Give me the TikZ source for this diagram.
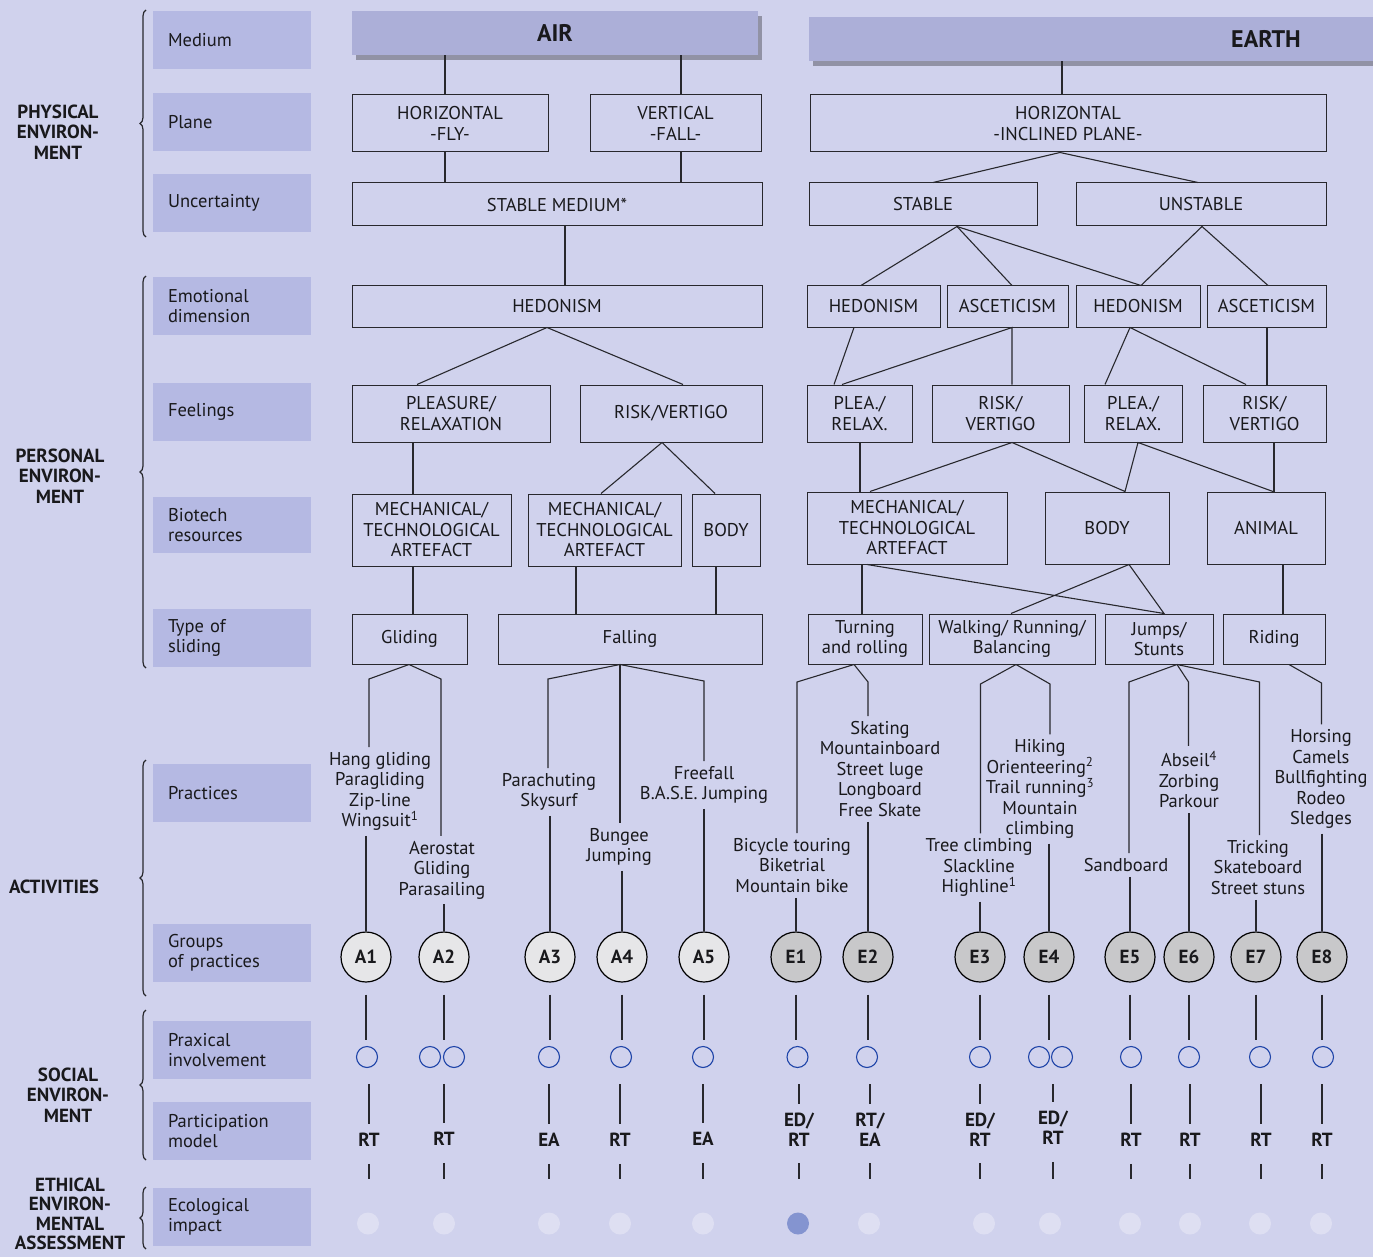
\documentclass[tikz,border=0pt]{standalone}
\usepackage{fontspec}
\setmainfont{PT Sans}
\usetikzlibrary{decorations.pathreplacing,shadows}
\definecolor{bgc}{RGB}{208,210,237}
\definecolor{labc}{RGB}{181,185,227}
\definecolor{hdrc}{RGB}{172,175,216}
\definecolor{lc}{RGB}{40,40,45}
\definecolor{tc}{RGB}{25,25,28}
\definecolor{gA}{RGB}{230,230,232}
\definecolor{gE}{RGB}{200,200,202}
\definecolor{bluec}{RGB}{30,68,168}
\definecolor{ecoL}{RGB}{222,223,242}
\definecolor{ecoD}{RGB}{132,148,208}
\newcommand\myfs{\fontsize{18.5}{20.5}\selectfont}
\newcommand\myfb{\fontsize{19}{20.5}\selectfont\bfseries}
\newcommand\myfbe{\fontsize{19}{19.5}\selectfont\bfseries}
\newcommand\myfbc{\fontsize{19}{20}\selectfont\bfseries}
\newcommand\myhd{\fontsize{24}{26}\selectfont\bfseries}
\newcommand\bx[6]{\node[box, minimum width={(#4-#2)*1pt}, minimum height={(#5-#3)*1pt}] (#1) at ({(#2+#4)/2},{(#3+#5)/2+1}) {#6};}
\tikzset{
  box/.style={draw=lc, line width=1pt, inner sep=0pt, align=center, font=\myfs, text=tc},
  ln/.style={draw=lc, line width=1.1pt},
  lnk/.style={draw=lc, line width=2pt},
  lab/.style={fill=labc, inner sep=0pt, minimum width=158pt, minimum height=58pt, text width=128pt, align=left, font=\myfs, text=tc},
  ttl/.style={align=center, font=\myfb, text=tc, inner sep=0pt},
  prac/.style={align=center, font=\myfs, inner sep=5pt, text=tc},
  grpA/.style={circle, draw=black, line width=1.2pt, fill=gA, minimum size=50pt, inner sep=0pt, font=\myfbc, text=tc},
  grpE/.style={grpA, fill=gE},
  pxc/.style={circle, draw=bluec, line width=1.1pt, minimum size=21pt, inner sep=0pt},
  part/.style={align=center, font=\myfbc, inner sep=0pt, text=tc},
  eco/.style={circle, fill=ecoL, minimum size=22pt, inner sep=0pt},
  brc/.style={draw=lc, line width=1.2pt, decorate, decoration={brace, amplitude=6pt}},
  hdr/.style={fill=hdrc, inner sep=0pt, font=\myhd, text=tc, drop shadow={shadow xshift=4pt, shadow yshift=-5pt, opacity=0.3, fill=black}},
}
\begin{document}
\begin{tikzpicture}[x=1pt,y=-1pt]
\useasboundingbox (0,0) rectangle (1373,1257);
\fill[bgc] (0,0) rectangle (1373,1257);

% ---------- left labels ----------
\node[lab] (lmed) at (232,40) {Medium};
\node[lab] (lpla) at (232,122) {Plane};
\node[lab] (lunc) at (232,203) {Uncertainty};
\node[lab] (lemo) at (232,306) {Emotional\\dimension};
\node[lab] (lfee) at (232,412) {Feelings};
\node[lab, minimum height=56pt] (lbio) at (232,525) {Biotech\\resources};
\node[lab] (ltyp) at (232,638) {Type of\\sliding};
\node[lab] (lpra) at (232,793) {Practices};
\node[lab] (lgro) at (232,953) {Groups\\of practices};
\node[lab] (lprx) at (232,1050) {Praxical\\involvement};
\node[lab] (lpar) at (232,1131) {Participation\\model};
\node[lab] (leco) at (232,1217) {Ecological\\impact};

% ---------- braces ----------
\draw[brc] (146,237) -- (146,10);
\draw[brc] (146,668) -- (146,276);
\draw[brc] (146,996) -- (146,760);
\draw[brc] (146,1160) -- (146,1010);
\draw[brc] (146,1249) -- (146,1187);

% ---------- titles ----------
\node[ttl] (tphy) at (58,132) {PHYSICAL\\ENVIRON-\\MENT};
\node[ttl] (tper) at (60,476) {PERSONAL\\ENVIRON-\\MENT};
\node[ttl] (tact) at (54,887) {ACTIVITIES};
\node[ttl] (tsoc) at (68,1095) {SOCIAL\\ENVIRON-\\MENT};
\node[ttl, font=\myfbe] (teth) at (70,1214) {ETHICAL\\ENVIRON-\\MENTAL\\ASSESSMENT};

% ---------- headers ----------
\node[hdr, minimum width=406pt, minimum height=44pt] (airh) at (555,33) {AIR};
\node[hdr, minimum width=600pt, minimum height=44pt] (earthh) at (1109,39) {};
\node[font=\myhd, text=tc, inner sep=0pt] (earthtxt) at (1266,39) {EARTH};

% ---------- boxes ----------
\bx{hfly}{352}{94}{548}{151}{HORIZONTAL\\-FLY-}
\bx{vfall}{590}{94}{761}{151}{VERTICAL\\-FALL-}
\bx{hinc}{810}{94}{1326}{151}{HORIZONTAL\\-INCLINED PLANE-}
\bx{smed}{352}{182}{762}{225}{STABLE MEDIUM*}
\bx{stab}{809}{182}{1037}{225}{STABLE}
\bx{unst}{1076}{182}{1326}{225}{UNSTABLE}
\bx{hedA}{352}{285}{762}{326}{HEDONISM}
\bx{hed1}{807}{285}{940}{326}{HEDONISM}
\bx{asc1}{947}{285}{1068}{326}{ASCETICISM}
\bx{hed2}{1076}{285}{1200}{326}{HEDONISM}
\bx{asc2}{1207}{285}{1326}{326}{ASCETICISM}
\bx{plA}{352}{384}{550}{441}{PLEASURE/\\RELAXATION}
\bx{rvA}{580}{384}{762}{441}{RISK/VERTIGO}
\bx{ple1}{807}{384}{912}{441}{PLEA./\\RELAX.}
\bx{rsk1}{932}{384}{1069}{441}{RISK/\\VERTIGO}
\bx{ple2}{1084}{384}{1182}{441}{PLEA./\\RELAX.}
\bx{rsk2}{1203}{384}{1326}{441}{RISK/\\VERTIGO}
\bx{mta1}{352}{493}{511}{565}{MECHANICAL/\\TECHNOLOGICAL\\ARTEFACT}
\bx{mta2}{528}{493}{681}{565}{MECHANICAL/\\TECHNOLOGICAL\\ARTEFACT}
\bx{bodA}{692}{493}{760}{565}{BODY}
\bx{mta3}{807}{491}{1007}{563}{MECHANICAL/\\TECHNOLOGICAL\\ARTEFACT}
\bx{bod3}{1045}{491}{1169}{563}{BODY}
\bx{anim}{1207}{491}{1325}{563}{ANIMAL}
\bx{glid}{352}{613}{467}{663}{Gliding}
\bx{fall}{498}{613}{762}{663}{Falling}
\bx{turn}{808}{613}{922}{663}{Turning\\and rolling}
\bx{walk}{929}{613}{1095}{663}{Walking/ Running/\\Balancing}
\bx{jump}{1105}{613}{1213}{663}{Jumps/\\Stunts}
\bx{ride}{1223}{613}{1325}{663}{Riding}

% ---------- tree connectors ----------
\draw[lnk] (445,0 |- airh.south) -- (445,0 |- hfly.north);
\draw[lnk] (681,0 |- airh.south) -- (681,0 |- vfall.north);
\draw[lnk] (1062,0 |- earthh.south) -- (1062,0 |- hinc.north);
\draw[ln] (445,0 |- hfly.south) -- (445,0 |- smed.north);
\draw[ln] (681,0 |- vfall.south) -- (681,0 |- smed.north);
\draw[ln] (933,0 |- stab.north) -- (1060,0 |- hinc.south) -- (1198,0 |- unst.north);
\draw[ln] (565,0 |- smed.south) -- (565,0 |- hedA.north);
\draw[ln] (861,0 |- hed1.north) -- (957,0 |- stab.south) -- (1012,0 |- asc1.north);
\draw[ln] (957,0 |- stab.south) -- (1141,0 |- hed2.north) -- (1202,0 |- unst.south) -- (1268,0 |- asc2.north);
\draw[ln] (417,0 |- plA.north) -- (547,0 |- hedA.south) -- (683,0 |- rvA.north);
\draw[ln] (854,0 |- hed1.south) -- (834,0 |- ple1.north);
\draw[ln] (842,0 |- ple1.north) -- (1012,0 |- asc1.south) -- (1012,0 |- rsk1.north);
\draw[ln] (1105,0 |- ple2.north) -- (1130,0 |- hed2.south) -- (1246,0 |- rsk2.north);
\draw[ln] (1267,0 |- asc2.south) -- (1267,0 |- rsk2.north);
\draw[ln] (413,0 |- plA.south) -- (413,0 |- mta1.north);
\draw[ln] (601,0 |- mta2.north) -- (662,0 |- rvA.south) -- (715,0 |- bodA.north);
\draw[ln] (860,0 |- ple1.south) -- (860,0 |- mta3.north);
\draw[ln] (870,0 |- mta3.north) -- (1012,0 |- rsk1.south) -- (1125,0 |- bod3.north) -- (1138,0 |- ple2.south) -- (1273,0 |- anim.north);
\draw[ln] (1274,0 |- rsk2.south) -- (1274,0 |- anim.north);
\draw[ln] (413,0 |- mta1.south) -- (413,0 |- glid.north);
\draw[ln] (576,0 |- mta2.south) -- (576,0 |- fall.north);
\draw[ln] (716,0 |- bodA.south) -- (716,0 |- fall.north);
\draw[ln] (862,0 |- mta3.south) -- (862,0 |- turn.north);
\draw[ln] (867,0 |- mta3.south) -- (1164,0 |- jump.north) -- (1129,0 |- bod3.south) -- (1011,0 |- walk.north);
\draw[ln] (1283,0 |- anim.south) -- (1283,0 |- ride.north);

% ---------- practices ----------
\node[prac] (pA1) at (380,791.5) {Hang gliding\\Paragliding\\Zip-line\\Wingsuit\textsuperscript{1}};
\node[prac] (pA2) at (442,870) {Aerostat\\Gliding\\Parasailing};
\node[prac] (pA3) at (549,792) {Parachuting\\Skysurf};
\node[prac] (pA4) at (619,847) {Bungee\\Jumping};
\node[prac] (pA5) at (704,785) {Freefall\\B.A.S.E. Jumping};
\node[prac] (pE1) at (792,865.5) {Bicycle touring\\Biketrial\\Mountain bike};
\node[prac] (pE2) at (880,769) {Skating\\Mountainboard\\Street luge\\Longboard\\Free Skate};
\node[prac] (pE3) at (979,867.5) {Tree climbing\\Slackline\\Highline\textsuperscript{1}};
\node[prac] (pE4) at (1040,789) {Hiking\\Orienteering\textsuperscript{2}\\Trail running\textsuperscript{3}\\Mountain\\climbing};
\node[prac] (pE5) at (1126,865) {Sandboard};
\node[prac] (pE6) at (1189,779.5) {Abseil\textsuperscript{4}\\Zorbing\\Parkour};
\node[prac] (pE7) at (1258,867.5) {Tricking\\Skateboard\\Street stuns};
\node[prac] (pE8) at (1321,779) {Horsing\\Camels\\Bullfighting\\Rodeo\\Sledges};

% ---------- groups ----------
\node[grpA] (cA1) at (366,957) {A1};
\node[grpA] (cA2) at (444,957) {A2};
\node[grpA] (cA3) at (550,957) {A3};
\node[grpA] (cA4) at (622,957) {A4};
\node[grpA] (cA5) at (704,957) {A5};
\node[grpE] (cE1) at (796,957) {E1};
\node[grpE] (cE2) at (868,957) {E2};
\node[grpE] (cE3) at (980,957) {E3};
\node[grpE] (cE4) at (1049,957) {E4};
\node[grpE] (cE5) at (1130,957) {E5};
\node[grpE] (cE6) at (1189,957) {E6};
\node[grpE] (cE7) at (1256,957) {E7};
\node[grpE] (cE8) at (1322,957) {E8};

% practice connectors (upper)
\draw[ln] (409,0 |- glid.south) -- (369,679) -- (369,0 |- pA1.north);
\draw[ln] (409,0 |- glid.south) -- (441,679) -- (441,0 |- pA2.north);
\draw[ln] (620,0 |- fall.south) -- (548,679) -- (548,0 |- pA3.north);
\draw[ln] (620,0 |- fall.south) -- (620,0 |- pA4.north);
\draw[ln] (620,0 |- fall.south) -- (704,681) -- (704,0 |- pA5.north);
\draw[ln] (854,0 |- turn.south) -- (797,682) -- (797,0 |- pE1.north);
\draw[ln] (854,0 |- turn.south) -- (868,682) -- (868,0 |- pE2.north);
\draw[ln] (1016,0 |- walk.south) -- (980.5,684) -- (980.5,0 |- pE3.north);
\draw[ln] (1016,0 |- walk.south) -- (1050,684) -- (1050,0 |- pE4.north);
\draw[ln] (1177,0 |- jump.south) -- (1129,682) -- (1129,0 |- pE5.north);
\draw[ln] (1177,0 |- jump.south) -- (1188.5,682) -- (1188.5,0 |- pE6.north);
\draw[ln] (1177,0 |- jump.south) -- (1259.5,682) -- (1259.5,0 |- pE7.north);
\draw[ln] (1289,0 |- ride.south) -- (1321.5,683) -- (1321.5,0 |- pE8.north);
% practice connectors (lower)
\foreach \p in {A1,A2,A3,A4,A5,E1,E2,E3,E4,E5,E6,E7,E8}
  \draw[ln] (c\p.north |- p\p.south) -- (c\p.north);

% ---------- praxical involvement ----------
\node[pxc] (pxA1) at (367,1057) {};
\node[pxc] (pxA2a) at (430,1057) {};
\node[pxc] (pxA2b) at (454,1057) {};
\node[pxc] (pxA3) at (549,1057) {};
\node[pxc] (pxA4) at (621,1057) {};
\node[pxc] (pxA5) at (703,1057) {};
\node[pxc] (pxE1) at (797.5,1057) {};
\node[pxc] (pxE2) at (867,1057) {};
\node[pxc] (pxE3) at (980,1057) {};
\node[pxc] (pxE4a) at (1039,1057) {};
\node[pxc] (pxE4b) at (1062,1057) {};
\node[pxc] (pxE5) at (1131,1057) {};
\node[pxc] (pxE6) at (1189,1057) {};
\node[pxc] (pxE7) at (1260,1057) {};
\node[pxc] (pxE8) at (1323,1057) {};

% ---------- participation model ----------
\node[part] (rA1) at (369,1140) {RT};
\node[part] (rA2) at (444,1139) {RT};
\node[part] (rA3) at (549,1140) {EA};
\node[part] (rA4) at (620,1140) {RT};
\node[part] (rA5) at (703,1139) {EA};
\node[part] (rE1) at (799,1129.5) {ED/\\RT};
\node[part] (rE2) at (870,1129.5) {RT/\\EA};
\node[part] (rE3) at (980,1129.5) {ED/\\RT};
\node[part] (rE4) at (1053,1128) {ED/\\RT};
\node[part] (rE5) at (1131,1140) {RT};
\node[part] (rE6) at (1190,1140) {RT};
\node[part] (rE7) at (1261,1140) {RT};
\node[part] (rE8) at (1322,1140) {RT};

% ---------- ecological impact ----------
\node[eco] (eA1) at (368,1223.5) {};
\node[eco] (eA2) at (444,1223.5) {};
\node[eco] (eA3) at (549,1223.5) {};
\node[eco] (eA4) at (620,1223.5) {};
\node[eco] (eA5) at (703,1223.5) {};
\node[eco, fill=ecoD] (eE1) at (798,1223.5) {};
\node[eco] (eE2) at (869,1223.5) {};
\node[eco] (eE3) at (984,1223.5) {};
\node[eco] (eE4) at (1050,1223.5) {};
\node[eco] (eE5) at (1130,1223.5) {};
\node[eco] (eE6) at (1190,1223.5) {};
\node[eco] (eE7) at (1260,1223.5) {};
\node[eco] (eE8) at (1321,1223.5) {};

% group -> praxical
\foreach \p in {A1,A3,A4,A5,E1,E2,E3,E5,E6,E7,E8}
  \draw[ln, shorten <=12pt, shorten >=6pt] (c\p.south) -- (c\p.south |- px\p.north);
\draw[ln, shorten <=12pt, shorten >=6pt] (cA2.south) -- (cA2.south |- pxA2a.north);
\draw[ln, shorten <=12pt, shorten >=6pt] (cE4.south) -- (cE4.south |- pxE4a.north);
% praxical -> participation
\foreach \p in {A1,A3,A4,A5,E1,E2,E3,E5,E6,E7,E8}
  \draw[ln, shorten <=16pt, shorten >=9pt] (r\p.north |- px\p.south) -- (r\p.north);
\draw[ln, shorten <=16pt, shorten >=9pt] (rA2.north |- pxA2a.south) -- (rA2.north);
\draw[ln, shorten <=16pt, shorten >=9pt] (rE4.north |- pxE4a.south) -- (rE4.north);
% participation -> ecological
\foreach \p in {A1,A2,A3,A4,A5,E1,E2,E3,E4,E5,E6,E7,E8}
  \draw[ln, shorten <=17pt, shorten >=33pt] (r\p.south) -- (r\p.south |- e\p.north);
\end{tikzpicture}
\end{document}
